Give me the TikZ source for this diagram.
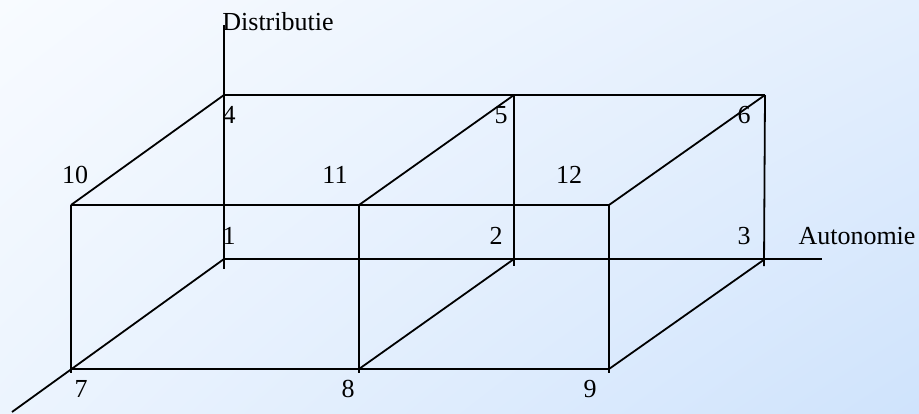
\documentclass[tikz,border=0pt]{standalone}
\usepackage{fontspec}
\setmainfont{Liberation Serif}
\usetikzlibrary{shadings}
\definecolor{bgTL}{RGB}{248,251,255}
\definecolor{bgTR}{RGB}{228,239,253}
\definecolor{bgBL}{RGB}{236,244,254}
\definecolor{bgBR}{RGB}{207,227,252}
\begin{document}
\begin{tikzpicture}[x=1pt,y=-1pt,
  edge/.style={line width=1.8pt,black},
  lbl/.style={inner sep=0pt,font=\fontsize{26}{26}\selectfont}]
\shade[upper left=bgTL,upper right=bgTR,lower left=bgBL,lower right=bgBR] (0,0) rectangle (919,413);
\useasboundingbox (0,0) rectangle (919,413);
% vertices
\coordinate (p1) at (224,259);
\coordinate (p2) at (514,259);
\coordinate (p3) at (765,259);
\coordinate (p4) at (224,95);
\coordinate (p5) at (514,95);
\coordinate (p6) at (765,95);
\coordinate (p7) at (71,369);
\coordinate (p8) at (359,369);
\coordinate (p9) at (609,369);
\coordinate (p10) at (71,205);
\coordinate (p11) at (359,205);
\coordinate (p12) at (609,205);
% axis ends and tick ends
\coordinate (ztop) at (224,25);
\coordinate (zbot) at (224,269);
\coordinate (xend) at (822,259);
\coordinate (yend) at (12,412);
\coordinate (t2) at (514,266);
\coordinate (t3) at (764,266);
\coordinate (t7) at (71,373);
\coordinate (t8) at (359,373);
\coordinate (t9) at (609,373);
% axes
\draw[edge] (ztop) -- (zbot);
\draw[edge] (p1) -- (xend);
\draw[edge] (p1) -- (yend);
% top face
\draw[edge] (p4) -- (p6);
\draw[edge] (p10) -- (p12);
\draw[edge] (p4) -- (p10);
\draw[edge] (p5) -- (p11);
\draw[edge] (p6) -- (p12);
% bottom face
\draw[edge] (p7) -- (p9);
\draw[edge] (p2) -- (p8);
\draw[edge] (p3) -- (p9);
% verticals
\draw[edge] (p5) -- (t2);
\draw[edge] (p6) -- (t3);
\draw[edge] (p10) -- (t7);
\draw[edge] (p11) -- (t8);
\draw[edge] (p12) -- (t9);
% labels
\node[lbl] (lD) at (278,22) {Distributie};
\node[lbl] (lA) at (857,236) {Autonomie};
\node[lbl] (l1) at (229,236) {1};
\node[lbl] (l2) at (496,236) {2};
\node[lbl] (l3) at (744,236) {3};
\node[lbl] (l4) at (229,115) {4};
\node[lbl] (l5) at (501,115) {5};
\node[lbl] (l6) at (744,115) {6};
\node[lbl] (l7) at (81,389) {7};
\node[lbl] (l8) at (348,389) {8};
\node[lbl] (l9) at (590,389) {9};
\node[lbl] (l10) at (75,175) {10};
\node[lbl] (l11) at (335,175) {11};
\node[lbl] (l12) at (569,175) {12};
\end{tikzpicture}
\end{document}
